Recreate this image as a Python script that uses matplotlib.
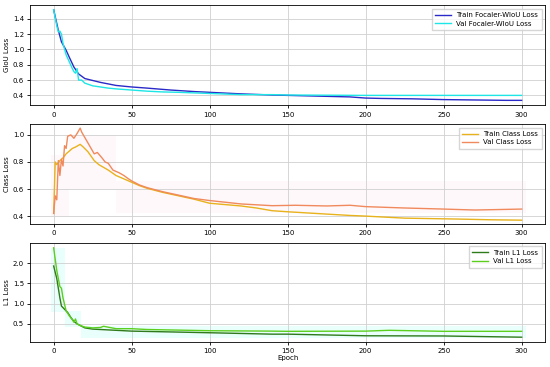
import numpy as np
import matplotlib
matplotlib.use("Agg")
import matplotlib.pyplot as plt

# ---- GIoU (Focaler-WIoU) loss ----
giou_train_ep = [0, 3, 5, 8, 10, 13, 16, 20, 30, 40, 50, 60, 75, 90, 100, 120, 140,
                 150, 170, 190, 200, 210, 230, 250, 270, 290, 300]
giou_train = [1.52, 1.25, 1.10, 0.99, 0.90, 0.77, 0.68, 0.62, 0.57, 0.53, 0.51, 0.495, 0.47,
              0.45, 0.44, 0.42, 0.405, 0.40, 0.39, 0.38, 0.365, 0.36, 0.355, 0.345, 0.34,
              0.335, 0.335]
giou_val_ep = [0, 2, 3, 4, 5, 6, 8, 10, 12, 13, 14, 15, 16, 18, 20, 25, 30, 35, 40, 50, 60,
               70, 80, 100, 120, 140, 150, 200, 250, 300]
giou_val = [1.52, 1.31, 1.23, 1.24, 1.20, 1.08, 0.93, 0.84, 0.75, 0.71, 0.69, 0.75, 0.60,
            0.60, 0.56, 0.525, 0.51, 0.495, 0.485, 0.47, 0.455, 0.445, 0.44, 0.425, 0.41,
            0.41, 0.405, 0.40, 0.40, 0.40]

# ---- Class loss ----
cls_train_ep = [0, 1, 2, 4, 6, 8, 10, 12, 14, 17, 19, 22, 26, 29, 32, 35, 40, 45, 50, 55,
                60, 70, 80, 90, 100, 110, 120, 130, 140, 150, 175, 190, 200, 225, 250,
                260, 280, 300]
cls_train = [0.42, 0.80, 0.78, 0.81, 0.83, 0.86, 0.88, 0.90, 0.91, 0.93, 0.91, 0.875, 0.81,
             0.78, 0.76, 0.74, 0.70, 0.675, 0.65, 0.625, 0.605, 0.575, 0.55, 0.525, 0.495,
             0.485, 0.475, 0.46, 0.44, 0.432, 0.415, 0.405, 0.40, 0.385, 0.38, 0.378,
             0.373, 0.37]
cls_val_ep = [0, 1, 2, 3, 4, 5, 6, 7, 8, 9, 11, 13, 15, 17, 18, 20, 23, 26, 28, 31, 33, 35,
              38, 42, 45, 48, 50, 55, 60, 70, 80, 90, 100, 120, 140, 155, 175, 190, 200,
              225, 250, 270, 300]
cls_val = [0.42, 0.55, 0.52, 0.81, 0.70, 0.82, 0.77, 0.92, 0.90, 0.99, 1.00, 0.975, 1.01,
           1.05, 1.02, 0.98, 0.92, 0.86, 0.87, 0.83, 0.80, 0.79, 0.74, 0.72, 0.70, 0.675,
           0.66, 0.63, 0.61, 0.58, 0.555, 0.53, 0.515, 0.49, 0.477, 0.48, 0.475, 0.48,
           0.47, 0.46, 0.452, 0.445, 0.452]

# ---- L1 loss ----
l1_train_ep = [0, 2, 4, 5, 7, 9, 11, 13, 15, 18, 20, 25, 30, 50, 100, 140, 150, 200, 250, 300]
l1_train = [1.93, 1.62, 1.14, 0.94, 0.86, 0.78, 0.66, 0.56, 0.50, 0.44, 0.40, 0.37, 0.36,
            0.32, 0.28, 0.245, 0.245, 0.205, 0.20, 0.17]
l1_val_ep = [0, 1, 2, 3, 4, 5, 6, 7, 8, 10, 12, 13, 14, 15, 17, 20, 25, 30, 32, 40, 50, 60,
             100, 140, 150, 200, 215, 250, 300]
l1_val = [2.38, 2.10, 1.82, 1.62, 1.42, 1.38, 1.14, 0.98, 0.82, 0.70, 0.60, 0.54, 0.62,
          0.50, 0.46, 0.42, 0.40, 0.41, 0.44, 0.38, 0.38, 0.36, 0.33, 0.32, 0.315, 0.32,
          0.34, 0.315, 0.315]

# shaded spread bands (step edges)
l1_band_ep = [-2, 7.5, 17.5, 303]
l1_band_lo = [0.80, 0.42, 0.15]
l1_band_hi = [2.38, 0.82, 0.44]
cls_band_ep = [-2, 10, 40, 303]
cls_band_lo = [0.40, 0.60, 0.42]
cls_band_hi = [0.85, 1.00, 0.66]

FS = 5.0
plt.rcParams.update({"font.size": FS, "axes.linewidth": 0.6,
                     "xtick.major.width": 0.6, "ytick.major.width": 0.6,
                     "xtick.major.size": 2.5, "ytick.major.size": 2.5})

fig = plt.figure(figsize=(5.5, 3.67), dpi=100)
ax1 = fig.add_axes([0.055, 0.713, 0.936, 0.273])
ax2 = fig.add_axes([0.055, 0.389, 0.936, 0.273])
ax3 = fig.add_axes([0.055, 0.068, 0.936, 0.270])


def band(ax, ep, lo, hi, color, alpha):
    ax.fill_between(ep, lo + [lo[-1]], hi + [hi[-1]], step="post",
                    color=color, alpha=alpha, lw=0)


ax1.plot(giou_train_ep, giou_train, color="#2a2ac8", lw=1.0, label="Train Focaler-WIoU Loss")
ax1.plot(giou_val_ep, giou_val, color="#1ee6e6", lw=1.0, label="Val Focaler-WIoU Loss")
ax1.set_ylabel("GIoU Loss")

band(ax2, cls_band_ep, cls_band_lo, cls_band_hi, "#ffe4f2", 0.25)
ax2.plot(cls_train_ep, cls_train, color="#e8b21c", lw=1.0, label="Train Class Loss")
ax2.plot(cls_val_ep, cls_val, color="#f08a5c", lw=1.0, label="Val Class Loss")
ax2.set_ylabel("Class Loss")

band(ax3, l1_band_ep, l1_band_lo, l1_band_hi, "#b8fff4", 0.3)
ax3.plot(l1_train_ep, l1_train, color="#2f7a1a", lw=1.0, label="Train L1 Loss")
ax3.plot(l1_val_ep, l1_val, color="#5ccf1e", lw=1.0, label="Val L1 Loss")
ax3.set_ylabel("L1 Loss")
ax3.set_xlabel("Epoch", labelpad=0.5)

ax1.set_ylim(0.27, 1.58)
ax1.set_yticks([0.4, 0.6, 0.8, 1.0, 1.2, 1.4])
ax2.set_ylim(0.34, 1.08)
ax2.set_yticks([0.4, 0.6, 0.8, 1.0])
ax3.set_ylim(0.05, 2.5)
ax3.set_yticks([0.5, 1.0, 1.5, 2.0])

for ax in (ax1, ax2, ax3):
    ax.set_xlim(-15, 315)
    ax.set_xticks([0, 50, 100, 150, 200, 250, 300])
    ax.grid(True, color="#d0d0d0", lw=0.6)
    ax.tick_params(pad=2)
    ax.yaxis.labelpad = 2
    ax.legend(loc="upper right", fontsize=FS, frameon=True, borderpad=0.5,
              handlelength=2.2, labelspacing=0.35, fancybox=False, edgecolor="#cccccc")

fig.savefig("out.png", dpi=100)
